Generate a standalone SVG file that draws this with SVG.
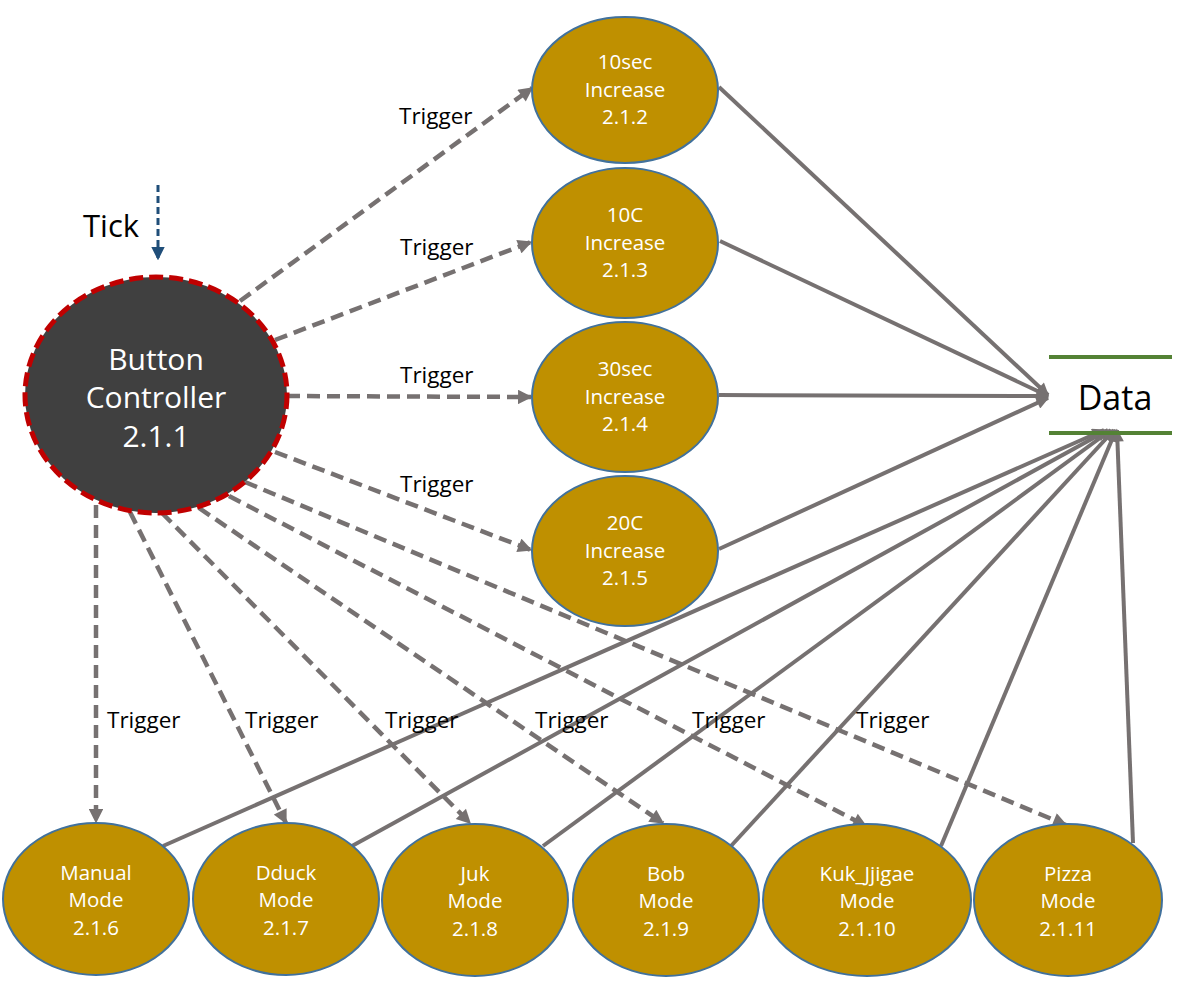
<svg xmlns="http://www.w3.org/2000/svg" width="1178" height="984" viewBox="0 0 1178 984">
<style>
.proc{fill:#BF9000;stroke:#41719C;stroke-width:2}
.ctrl{fill:#404040;stroke:#C00000;stroke-width:5;stroke-dasharray:14 6}
.nt{font-family:"Open Sans","Noto Sans",sans-serif;font-size:20.5px;fill:#FFFFFF;text-anchor:middle}
.bt{font-family:"Open Sans","Noto Sans",sans-serif;font-size:30px;fill:#FFFFFF;text-anchor:middle}
.flow{stroke:#767171;stroke-width:4;fill:none;marker-end:url(#ah)}
.trig{stroke:#767171;stroke-width:4.5;fill:none;stroke-dasharray:13 7;marker-end:url(#ah)}
.lbl{font-family:"Open Sans","Noto Sans",sans-serif;font-size:22.5px;fill:#000000}
.store{stroke:#548235;stroke-width:4}
</style>
<defs>
<marker id="ah" viewBox="0 0 10 10" refX="9" refY="5" markerWidth="3.6" markerHeight="3.2" orient="auto" markerUnits="strokeWidth">
<path d="M0,0 L10,5 L0,10 z" fill="#767171" stroke="none"/>
</marker>
<marker id="ahb" viewBox="0 0 10 10" refX="9" refY="5" markerWidth="4.5" markerHeight="4.5" orient="auto" markerUnits="strokeWidth">
<path d="M0,0 L10,5 L0,10 z" fill="#1F4E79" stroke="none"/>
</marker>
</defs>
<g id="connectors">
<line class="flow" x1="719" y1="87" x2="1048" y2="395"/>
<line class="flow" x1="720" y1="241" x2="1048" y2="396"/>
<line class="flow" x1="719" y1="395" x2="1048" y2="396"/>
<line class="flow" x1="719" y1="549" x2="1048" y2="398"/>
<line class="flow" x1="163" y1="846" x2="1104" y2="430"/>
<line class="flow" x1="352" y1="846" x2="1108" y2="430"/>
<line class="flow" x1="543" y1="846" x2="1111" y2="430"/>
<line class="flow" x1="731" y1="846" x2="1114" y2="430"/>
<line class="flow" x1="941" y1="846" x2="1116" y2="430"/>
<line class="flow" x1="1133" y1="843" x2="1117" y2="430"/>
<line class="trig" x1="240" y1="301" x2="532" y2="88"/>
<line class="trig" x1="275" y1="340" x2="531" y2="242"/>
<line class="trig" x1="287" y1="396" x2="531" y2="397"/>
<line class="trig" x1="275" y1="452" x2="531" y2="550"/>
<line class="trig" x1="96" y1="505" x2="96" y2="822"/>
<line class="trig" x1="130" y1="512" x2="286" y2="823"/>
<line class="trig" x1="162" y1="513" x2="470" y2="823"/>
<line class="trig" x1="199" y1="508" x2="663" y2="823"/>
<line class="trig" x1="229" y1="496" x2="866" y2="826"/>
<line class="trig" x1="245" y1="482" x2="1066" y2="825"/>
<line x1="158" y1="185" x2="158" y2="259" stroke="#1F4E79" stroke-width="3" stroke-dasharray="7 4" marker-end="url(#ahb)"/>
<text class="lbl" x="399" y="124">Trigger</text>
<text class="lbl" x="400" y="255">Trigger</text>
<text class="lbl" x="400" y="383">Trigger</text>
<text class="lbl" x="400" y="492">Trigger</text>
<text class="lbl" x="107" y="728">Trigger</text>
<text class="lbl" x="245" y="728">Trigger</text>
<text class="lbl" x="385" y="728">Trigger</text>
<text class="lbl" x="535" y="728">Trigger</text>
<text class="lbl" x="692" y="728">Trigger</text>
<text class="lbl" x="856" y="728">Trigger</text>
<text x="83" y="237" font-family="Open Sans, Noto Sans, sans-serif" font-size="31" fill="#000000">Tick</text>
</g>
<g id="n211">
<ellipse class="ctrl" cx="156" cy="395" rx="131" ry="118"/>
<text class="bt" x="156" y="370">Button</text>
<text class="bt" x="156" y="408">Controller</text>
<text class="bt" x="156" y="447">2.1.1</text>
</g>
<g id="n212">
<ellipse class="proc" cx="625" cy="90" rx="93" ry="73"/>
<text class="nt" x="625" y="69">10sec</text>
<text class="nt" x="625" y="97">Increase</text>
<text class="nt" x="625" y="124">2.1.2</text>
</g>
<g id="n213">
<ellipse class="proc" cx="625" cy="243" rx="93" ry="75"/>
<text class="nt" x="625" y="222">10C</text>
<text class="nt" x="625" y="250">Increase</text>
<text class="nt" x="625" y="277">2.1.3</text>
</g>
<g id="n214">
<ellipse class="proc" cx="625" cy="397" rx="93" ry="75"/>
<text class="nt" x="625" y="376">30sec</text>
<text class="nt" x="625" y="404">Increase</text>
<text class="nt" x="625" y="431">2.1.4</text>
</g>
<g id="n215">
<ellipse class="proc" cx="625" cy="551" rx="93" ry="75"/>
<text class="nt" x="625" y="530">20C</text>
<text class="nt" x="625" y="558">Increase</text>
<text class="nt" x="625" y="585">2.1.5</text>
</g>
<g id="n216">
<ellipse class="proc" cx="96" cy="899" rx="93" ry="76"/>
<text class="nt" x="96" y="880">Manual</text>
<text class="nt" x="96" y="907">Mode</text>
<text class="nt" x="96" y="935">2.1.6</text>
</g>
<g id="n217">
<ellipse class="proc" cx="286" cy="899" rx="93" ry="76"/>
<text class="nt" x="286" y="880">Dduck</text>
<text class="nt" x="286" y="907">Mode</text>
<text class="nt" x="286" y="935">2.1.7</text>
</g>
<g id="n218">
<ellipse class="proc" cx="475" cy="900" rx="93" ry="76"/>
<text class="nt" x="475" y="881">Juk</text>
<text class="nt" x="475" y="908">Mode</text>
<text class="nt" x="475" y="936">2.1.8</text>
</g>
<g id="n219">
<ellipse class="proc" cx="666" cy="900" rx="93" ry="76"/>
<text class="nt" x="666" y="881">Bob</text>
<text class="nt" x="666" y="908">Mode</text>
<text class="nt" x="666" y="936">2.1.9</text>
</g>
<g id="n2110">
<ellipse class="proc" cx="867" cy="900" rx="104" ry="76"/>
<text class="nt" x="867" y="881">Kuk_Jjigae</text>
<text class="nt" x="867" y="908">Mode</text>
<text class="nt" x="867" y="936">2.1.10</text>
</g>
<g id="n2111">
<ellipse class="proc" cx="1068" cy="900" rx="94" ry="76"/>
<text class="nt" x="1068" y="881">Pizza</text>
<text class="nt" x="1068" y="908">Mode</text>
<text class="nt" x="1068" y="936">2.1.11</text>
</g>
<g id="data">
<line class="store" x1="1049" y1="357" x2="1172" y2="357"/>
<line class="store" x1="1049" y1="433" x2="1172" y2="433"/>
<text x="1115" y="410" font-family="Open Sans, Noto Sans, sans-serif" font-size="34" fill="#000000" text-anchor="middle">Data</text>
</g>
</svg>
